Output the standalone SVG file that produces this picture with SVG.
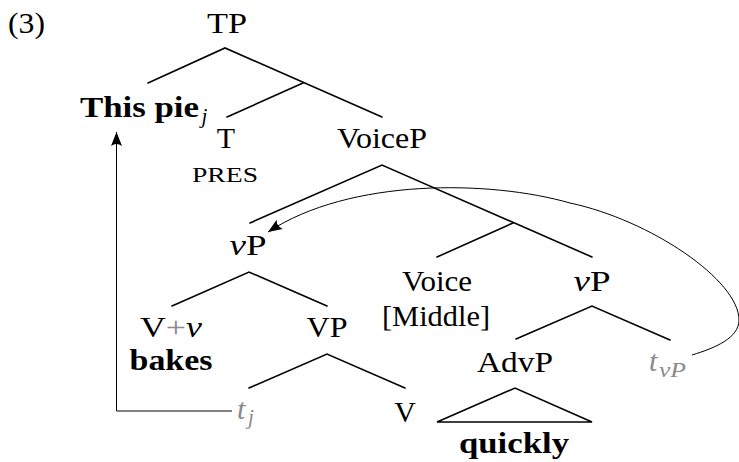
<svg xmlns="http://www.w3.org/2000/svg" width="739" height="462" viewBox="0 0 739 462">
<style>
text{font-family:"Liberation Serif","DejaVu Serif",serif;font-size:30px;fill:#000}
.m{text-anchor:middle}
.b{font-weight:bold}
.i{font-style:italic}
.s{font-size:21px}
.g{fill:#8a8a8a}
.edge{stroke:#000;stroke-width:1.6;fill:none;stroke-linecap:round}
.arr{stroke:#000;stroke-width:1;fill:none}
</style>
<defs>
<marker id="ah" viewBox="-15 -7 16 14" refX="0" refY="0" markerWidth="16" markerHeight="14" orient="auto" markerUnits="userSpaceOnUse">
<path d="M0,0 L-14,-5.5 Q-10,0 -14,5.5 Z" fill="#000"/>
</marker>
</defs>
<rect width="739" height="462" fill="#fff"/>
<g id="connectors">
<path class="edge" d="M148,83 L225,48 L382,117"/>
<path class="edge" d="M303,83 L227,117"/>
<path class="edge" d="M250,223 L382,165 L592,257"/>
<path class="edge" d="M513,223 L437,257"/>
<path class="edge" d="M172,306 L249,272 L327,306"/>
<path class="edge" d="M249,388 L327,354 L405,388"/>
<path class="edge" d="M516,339 L592,306 L670,340"/>
<path class="edge" d="M437,422 L515,388 L592,422 Z" stroke-linejoin="miter"/>
<path class="arr" d="M232,411 L116.5,411 L116.5,132" marker-end="url(#ah)"/>
<path class="arr" d="M692,355 C715,348 739,338 739,320 C739,280 650,220 570,203 C490,180 350,178 268,232" marker-end="url(#ah)"/>
</g>
<g id="label-3"><text x="8" y="33" textLength="37" lengthAdjust="spacingAndGlyphs">(3)</text></g>
<g id="TP"><text class="m" x="227" y="33" textLength="40" lengthAdjust="spacingAndGlyphs">TP</text></g>
<g id="ThisPie"><text class="b" x="80" y="117" textLength="119" lengthAdjust="spacingAndGlyphs">This pie</text><text class="i s" x="201.5" y="123">j</text></g>
<g id="T"><text class="m" x="226" y="148">T</text><text class="m" x="225" y="182" style="font-size:21px" textLength="66" lengthAdjust="spacingAndGlyphs">PRES</text></g>
<g id="VoiceP"><text class="m" x="382" y="148" textLength="90" lengthAdjust="spacingAndGlyphs">VoiceP</text></g>
<g id="vP1"><text class="m" x="248" y="255" textLength="37" lengthAdjust="spacingAndGlyphs"><tspan class="i">v</tspan>P</text></g>
<g id="Vv"><text class="m" x="171" y="337" textLength="62" lengthAdjust="spacingAndGlyphs">V<tspan class="g">+</tspan><tspan class="i">v</tspan></text><text class="m b" x="171" y="370" textLength="83" lengthAdjust="spacingAndGlyphs">bakes</text></g>
<g id="VP"><text class="m" x="327" y="337" textLength="41" lengthAdjust="spacingAndGlyphs">VP</text></g>
<g id="tj"><text class="i g" x="237" y="419">t</text><text class="i s g" x="248" y="424">j</text></g>
<g id="V"><text class="m" x="405" y="422">V</text></g>
<g id="Voice"><text class="m" x="437" y="291" textLength="70" lengthAdjust="spacingAndGlyphs">Voice</text><text class="m" x="436" y="326" textLength="108" lengthAdjust="spacingAndGlyphs">[Middle]</text></g>
<g id="vP2"><text class="m" x="592" y="291" textLength="37" lengthAdjust="spacingAndGlyphs"><tspan class="i">v</tspan>P</text></g>
<g id="AdvP"><text class="m" x="515" y="372" textLength="76" lengthAdjust="spacingAndGlyphs">AdvP</text><text class="m b" x="514" y="453" textLength="110" lengthAdjust="spacingAndGlyphs">quickly</text></g>
<g id="tvP"><text class="i g" x="649" y="371">t</text><text class="i s g" x="659" y="377" textLength="27" lengthAdjust="spacingAndGlyphs">vP</text></g>
</svg>
